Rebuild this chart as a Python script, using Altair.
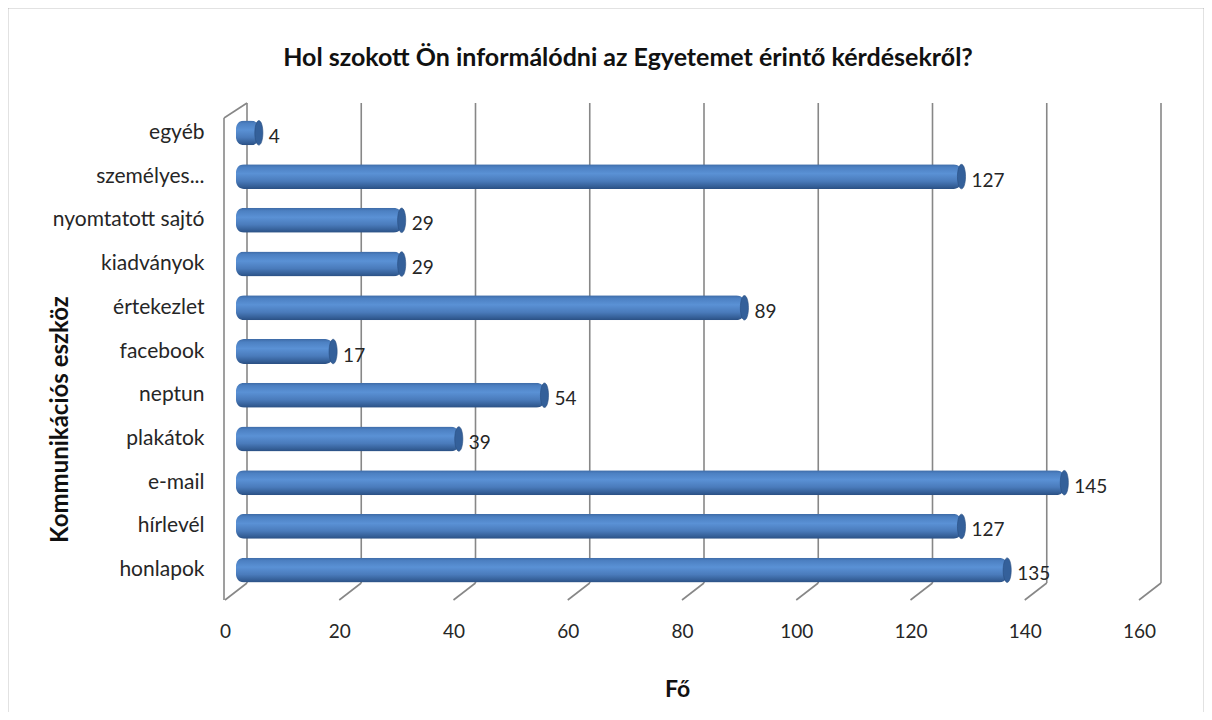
import altair as alt
import pandas as pd

categories = ["egyéb", "személyes...", "nyomtatott sajtó", "kiadványok", "értekezlet",
              "facebook", "neptun", "plakátok", "e-mail", "hírlevél", "honlapok"]
values = [4, 127, 29, 29, 89, 17, 54, 39, 145, 127, 135]
x_ticks = [0, 20, 40, 60, 80, 100, 120, 140, 160]

title_text = "Hol szokott Ön informálódni az Egyetemet érintő kérdésekről?"
x_title = "Fő"
y_title = "Kommunikációs eszköz"

FONT = "Lato"
W, H = 914, 481
GRID = "#878787"

df = pd.DataFrame({"cat": categories, "val": values})
ticks_df = pd.DataFrame({"t": x_ticks})
one = pd.DataFrame({"a": [0]})

xscale = alt.Scale(domain=[0, 160], nice=False, zero=True)
yscale = alt.Scale(domain=categories, paddingInner=0.43, paddingOuter=0.215)

x_axis = alt.Axis(values=x_ticks, grid=False, domain=False, ticks=False,
                  labelFlush=False, labelAlign="center",
                  labelOffset=-11, labelPadding=30, labelFontSize=19, labelFont=FONT,
                  labelColor="#262626", title=x_title, titleFont=FONT, titleFontSize=23,
                  titleFontWeight="bold", titleX=441, titleY=97, titleBaseline="middle",
                  titleAlign="center", titleColor="#111")
y_axis = alt.Axis(domain=False, ticks=False, labelPadding=32, labelFontSize=21,
                  labelFont=FONT, labelColor="#262626", title=y_title, titleFont=FONT,
                  titleFontSize=24, titleFontWeight="bold", titleX=-176, titleY=308,
                  titleAngle=270, titleBaseline="middle", titleAlign="center",
                  titleColor="#111")

frame = alt.Chart(one).mark_rect(fill="white", fillOpacity=0, stroke="#8a8a8a",
                                 strokeWidth=1.5, clip=False).encode(
    x=alt.value(-228.5), x2=alt.value(968.5), y=alt.value(-103.5), y2=alt.value(640))

grid = alt.Chart(ticks_df).mark_rule(color=GRID, strokeWidth=1.6, xOffset=11).encode(
    x=alt.X("t:Q", scale=xscale, axis=x_axis),
    y=alt.value(-8), y2=alt.value(472))

slant = alt.Chart(ticks_df).mark_rule(color=GRID, strokeWidth=1.6,
                                      xOffset=11, x2Offset=-11).encode(
    x=alt.X("t:Q", scale=xscale), x2="t:Q",
    y=alt.value(472), y2=alt.value(489))

wall_v = alt.Chart(one).mark_rule(color=GRID, strokeWidth=1.6).encode(
    x=alt.value(-12), y=alt.value(7), y2=alt.value(489))
wall_t = alt.Chart(one).mark_rule(color=GRID, strokeWidth=1.6).encode(
    x=alt.value(-12), x2=alt.value(11), y=alt.value(7), y2=alt.value(-8))

grad = alt.Gradient(gradient="linear", x1=0, y1=0, x2=0, y2=1, stops=[
    alt.GradientStop(offset=0, color="#3d6aa5"),
    alt.GradientStop(offset=0.12, color="#4c80c2"),
    alt.GradientStop(offset=0.38, color="#5a91d5"),
    alt.GradientStop(offset=0.68, color="#4a7bbb"),
    alt.GradientStop(offset=0.9, color="#345e96"),
    alt.GradientStop(offset=1, color="#2a4f82"),
])

bars = alt.Chart(df).mark_bar(color=grad, cornerRadius=8, x2Offset=-4).encode(
    x=alt.X("val:Q", scale=xscale),
    y=alt.Y("cat:N", scale=yscale, sort=categories, axis=y_axis))

cap_path = "M 0 -1 A 0.33 1 0 1 1 0 1 A 0.33 1 0 1 1 0 -1 Z"
caps = alt.Chart(df).mark_point(shape=cap_path, filled=True, fill="#34609a",
                                stroke="#284d80", strokeWidth=0.6, opacity=1,
                                size=600).encode(
    x=alt.X("val:Q", scale=xscale),
    y=alt.Y("cat:N", scale=yscale, sort=categories))

labels = alt.Chart(df).mark_text(align="left", baseline="middle", dx=10, dy=4,
                                 font=FONT, fontSize=19, color="#262626").encode(
    x=alt.X("val:Q", scale=xscale),
    y=alt.Y("cat:N", scale=yscale, sort=categories),
    text="val:Q")

title = alt.Chart(one).mark_text(text=title_text, font=FONT, fontSize=25,
                                 fontWeight="bold", color="#111", align="center",
                                 baseline="middle").encode(
    x=alt.value(392), y=alt.value(-53))

chart = alt.layer(frame, grid, slant, wall_v, wall_t, bars, caps, labels, title).properties(
    width=W, height=H,
    background="white",
    autosize=alt.AutoSizeParams(type="none"),
    padding={"left": 228, "top": 103, "right": 54, "bottom": 120},
).configure_view(stroke=None)

chart.save("out.html", embed_options={"renderer": "svg", "actions": False})
